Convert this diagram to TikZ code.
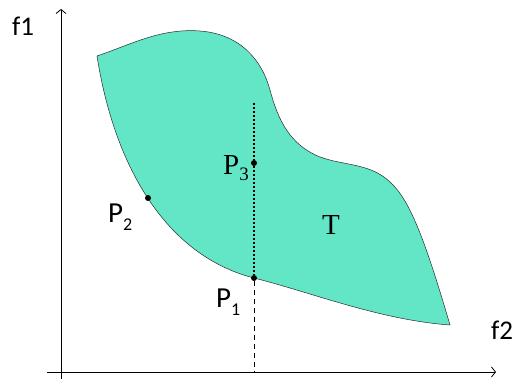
\documentclass[tikz,border=0pt]{standalone}
\usepackage{fontspec}
\usetikzlibrary{arrows.meta}
\newfontfamily\labelsans{Carlito}
\newfontfamily\labelserif{Liberation Serif}
\definecolor{regionfill}{HTML}{62E6C5}
\definecolor{regionedge}{HTML}{2A2A2A}

\begin{document}
\begin{tikzpicture}[
  x=1pt,
  y=-1pt,
  axis/.style={black, line width=0.8pt, -{Straight Barb[length=4pt, width=10pt]}},
  region/.style={fill=regionfill, draw=regionedge, line width=0.5pt},
  fineline/.style={black, line width=1.2pt, dash pattern=on 2pt off 2pt},
  coarseline/.style={black, line width=0.8pt, dash pattern=on 5pt off 4pt},
  paretopt/.style={circle, fill=black, inner sep=0pt, minimum size=6pt},
  axlab/.style={font=\labelsans\fontsize{27}{29}\selectfont, inner sep=0pt, anchor=base west},
  sanslab/.style={font=\labelsans\fontsize{29}{31}\selectfont, inner sep=0pt, anchor=base west},
  seriflab/.style={font=\labelserif\fontsize{29}{31}\selectfont, inner sep=0pt, anchor=base west}
]
  % ---- fixed frame, 520 by 379 ----
  \path[use as bounding box] (0,0) rectangle (520,379);

  % ---- the region T ----
  \path[region] (97,56)
    .. controls (130,45) and (160,28) .. (200,31)
    .. controls (240,34) and (262,60) .. (270,90)
    .. controls (278,120) and (290,145) .. (320,157)
    .. controls (345,166) and (370,163) .. (390,182)
    .. controls (410,200) and (425,240) .. (450,325)
    .. controls (380,320) and (310,292) .. (254,278)
    .. controls (168,256) and (115,170) .. (97,56)
    -- cycle;

  % ---- axes ----
  \coordinate (xstart) at (47,372);
  \coordinate (xend)   at (496,372);
  \coordinate (ystart) at (61,379);
  \coordinate (yend)   at (61,9);
  \draw[axis] (xstart) -- (xend);
  \draw[axis] (ystart) -- (yend);
  \node[axlab] (f1) at (12,36)  {f1};
  \node[axlab] (f2) at (491,340) {f2};

  % ---- points on and inside the region ----
  \coordinate (top)  at (254,103);
  \coordinate (foot) at (254,372);
  \node[paretopt] (p1) at (254,278) {};
  \node[paretopt] (p2) at (148,198) {};
  \node[paretopt] (p3) at (254,163) {};

  % ---- vertical guide through p3 and p1 ----
  \draw[fineline] (top) -- (p3) -- (p1);
  \draw[coarseline] (p1) -- (foot);

  % ---- labels ----
  \node[sanslab] (p1lab) at (216,308)
    {P\raisebox{-8pt}{\fontsize{18}{18}\selectfont 1}};
  \node[sanslab] (p2lab) at (108,223)
    {P\raisebox{-8pt}{\fontsize{18}{18}\selectfont 2}};
  \node[seriflab] (p3lab) at (223,175)
    {P\raisebox{-6pt}{\fontsize{19}{19}\selectfont 3}};
  \node[seriflab] (tlab) at (322,235) {T};
\end{tikzpicture}
\end{document}
